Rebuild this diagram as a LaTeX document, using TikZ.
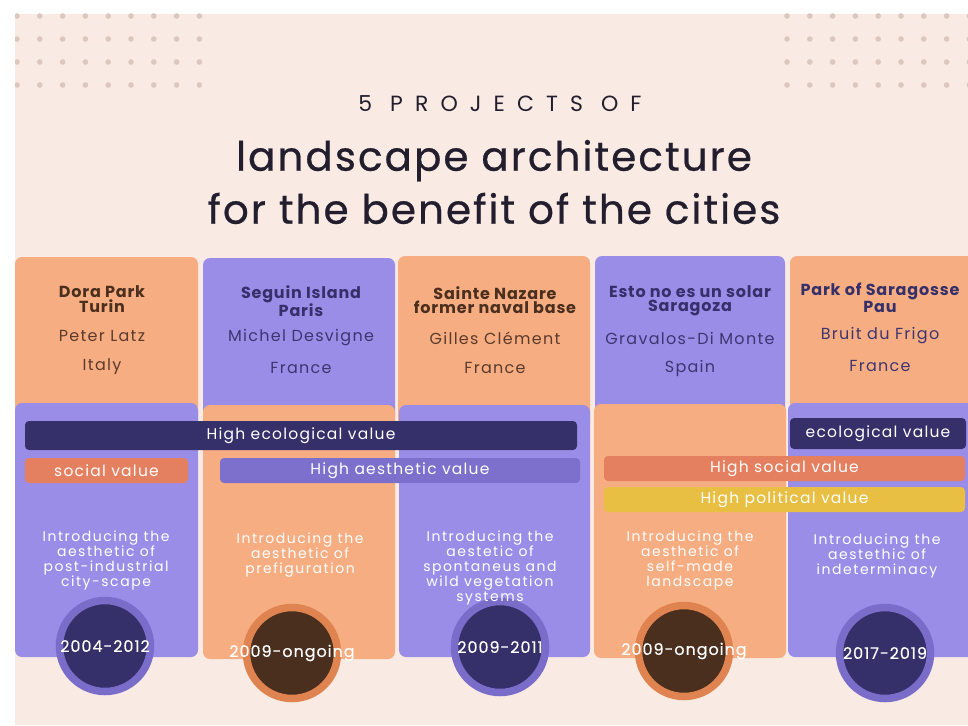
\documentclass[tikz,border=0pt]{standalone}
\usepackage{fontspec}
\setmainfont{Poppins}
\usetikzlibrary{positioning,calc}
\definecolor{bgpeach}{HTML}{F9EAE3}
\definecolor{dotc}{HTML}{DBC7BD}
\definecolor{cardorange}{HTML}{F7AD82}
\definecolor{cardpurple}{HTML}{9A8DE8}
\definecolor{navy}{HTML}{35306A}
\definecolor{coral}{HTML}{E47F5F}
\definecolor{barpurple}{HTML}{7C70CC}
\definecolor{gold}{HTML}{E8BF42}
\definecolor{ringpurple}{HTML}{7A6CC9}
\definecolor{ringorange}{HTML}{DF8450}
\definecolor{brown}{HTML}{4A2E1E}
\definecolor{titleink}{HTML}{221E2E}
\definecolor{subbrown}{HTML}{5B3B2B}
\definecolor{subnavy}{HTML}{3C3670}

\begin{document}
\begin{tikzpicture}[x=1pt,y=-1pt]
\tikzset{card/.style={rounded corners=7pt, inner sep=0pt, outer sep=0pt, anchor=north west}}
\tikzset{tag/.style={rounded corners=4pt, inner sep=0pt, outer sep=0pt, anchor=north west,
  text=white, font=\fontsize{15.5}{15}\selectfont\addfontfeature{LetterSpace=8}}}
\tikzset{place/.style={align=center, inner sep=0pt,
  font=\bfseries\fontsize{16}{14.5}\selectfont\addfontfeature{LetterSpace=5}}}
\tikzset{who/.style={inner sep=0pt, font=\fontsize{16}{15}\selectfont\addfontfeature{LetterSpace=8}}}
\tikzset{blurb/.style={align=center, text=white, anchor=north, inner sep=0pt,
  font=\fontsize{14}{15}\selectfont\addfontfeature{LetterSpace=11}}}
\tikzset{year/.style={circle, line width=7.5pt, minimum size=91pt, inner sep=0pt}}
\tikzset{yeartext/.style={inner sep=0pt, text=white,
  font=\fontsize{16}{15}\selectfont\addfontfeature{LetterSpace=6,FakeBold=0.4}}}

\useasboundingbox (0,0) rectangle (968,725);
\fill[white] (0,0) rectangle (968,725);
\fill[bgpeach] (15,14) rectangle (968,725);

% dotted corners
\begin{scope}
\clip (15,14) rectangle (968,725);
\foreach \i in {0,...,8}
  \foreach \j in {0,...,3} {
    \fill[dotc] (17+22.8*\i,16+23*\j) circle (2.8pt);
    \fill[dotc] (787+22.8*\i,16+23*\j) circle (2.8pt);
  }
\end{scope}

% heading
\node[text=titleink, font=\fontsize{22}{22}\selectfont\addfontfeature{LetterSpace=55}] (kicker) at (500,104) {5 PROJECTS OF};
\node[text=titleink, align=center,
  font=\fontsize{40.5}{53}\selectfont\addfontfeature{LetterSpace=5,FakeBold=0.6}] (title) at (494,182)
  {landscape architecture\\for the benefit of the cities};

% upper cards
\foreach \n/\x/\y/\w/\c in {1/15/257/183/cardorange, 2/203/258/192/cardpurple,
  3/398/256/192/cardorange, 4/595/256/190/cardpurple, 5/790/256/190/cardorange}
  \node[card, fill=\c, minimum width=\w pt, minimum height=175pt] (head\n) at (\x,\y) {};

% lower cards
\foreach \n/\x/\y/\w/\h/\c in {1/15/403/183/254/cardpurple, 2/203/405/192/254/cardorange,
  3/399/405/191/252/cardpurple, 4/594/404/192/254/cardorange, 5/788/403/190/254/cardpurple}
  \node[card, fill=\c, minimum width=\w pt, minimum height=\h pt] (base\n) at (\x,\y) {};

% sites
\node[place, text=brown] (site1) at (102,299) {Dora Park\\Turin};
\node[who, text=subbrown] (arch1) at (102,336) {Peter Latz};
\node[who, text=subbrown] (land1) at (102,367) {Italy};
\node[place, text=navy] (site2) at (301,301) {Seguin Island\\Paris};
\node[who, text=subnavy] (arch2) at (301,338) {Michel Desvigne};
\node[who, text=subnavy] (land2) at (301,368) {France};
\node[place, text=brown] (site3) at (495,300) {Sainte Nazare\\former naval base};
\node[who, text=subbrown] (arch3) at (495,338) {Gilles Clément};
\node[who, text=subbrown] (land3) at (495,368) {France};
\node[place, text=navy] (site4) at (690,301) {Esto no es un solar\\Saragoza};
\node[who, text=subnavy] (arch4) at (690,338) {Gravalos-Di Monte};
\node[who, text=subnavy] (land4) at (690,368) {Spain};
\node[place, text=navy] (site5) at (880,298) {Park of Saragosse\\Pau};
\node[who, text=subnavy] (arch5) at (880,336) {Bruit du Frigo};
\node[who, text=subnavy] (land5) at (880,366) {France};

% values
\node[tag, fill=navy, minimum width=552pt, minimum height=29pt] (ecoA) at (25,421) {High ecological value};
\node[tag, fill=coral, minimum width=163pt, minimum height=25pt] (socA) at (25,458) {social value};
\node[tag, fill=barpurple, minimum width=360pt, minimum height=25pt] (aesA) at (220,458) {High aesthetic value};
\node[tag, fill=navy, minimum width=176pt, minimum height=31pt] (ecoB) at (790,418) {ecological value};
\node[tag, fill=coral, minimum width=361pt, minimum height=25pt] (socB) at (604,456) {High social value};
\node[tag, fill=gold, minimum width=361pt, minimum height=25pt] (polB) at (604,487) {High political value};

% years
\node[year, fill=navy, draw=ringpurple, label={[yeartext]center:2004-2012}] (yr1) at (105,646) {};
\node[year, fill=brown, draw=ringorange, label={[yeartext]center:2009-ongoing}] (yr2) at (292,653) {};
\node[year, fill=navy, draw=ringpurple, label={[yeartext]center:2009-2011}] (yr3) at (500,647) {};
\node[year, fill=brown, draw=ringorange, label={[yeartext]center:2009-ongoing}] (yr4) at (684,651) {};
\node[year, fill=navy, draw=ringpurple, label={[yeartext]center:2017-2019}] (yr5) at (885,653) {};

% aesthetics
\node[blurb] (idea1) at (106,531) {Introducing the\\aesthetic of\\post-industrial\\city-scape};
\node[blurb] (idea2) at (300,533) {Introducing the\\aesthetic of\\prefiguration};
\node[blurb] (idea3) at (490,531) {Introducing the\\aestetic of\\spontaneus and\\wild  vegetation\\systems};
\node[blurb] (idea4) at (690,531) {Introducing the\\aesthetic of\\self-made\\landscape};
\node[blurb] (idea5) at (877,534) {Introducing the\\aestethic of\\indeterminacy};
\end{tikzpicture}
\end{document}
